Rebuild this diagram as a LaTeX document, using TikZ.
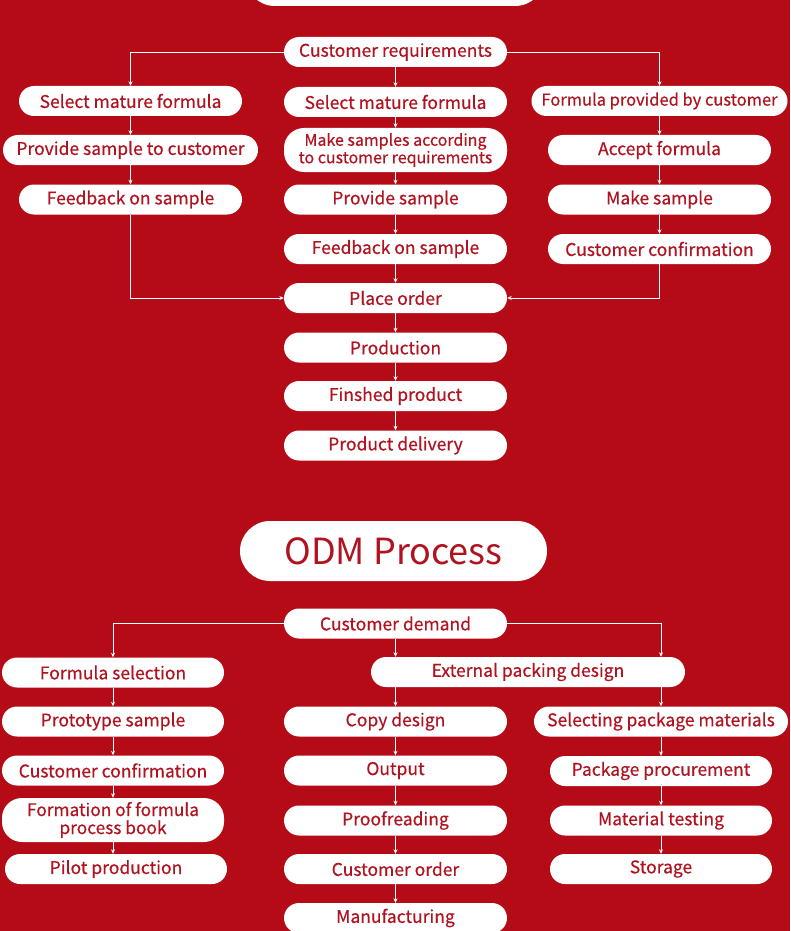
\documentclass[tikz,border=0pt]{standalone}
\usepackage{fontspec}
\setmainfont{Noto Sans CJK SC}
\newfontfamily\boxfont{Noto Sans CJK SC}[FakeBold=0.4]
\usetikzlibrary{arrows.meta}
\definecolor{bgred}{RGB}{181,11,22}
\definecolor{txtred}{RGB}{176,18,32}
\tikzset{
  box/.style={fill=white, rounded corners=15pt, minimum height=30pt, minimum width=223pt,
    inner sep=0pt, text=txtred, align=center, font=\boxfont\fontsize{17.5}{19}\selectfont},
  box2/.style={box, minimum height=44pt, rounded corners=20pt, font=\boxfont\fontsize{16}{17.5}\selectfont},
  titlebox/.style={fill=white, rounded corners=30pt, minimum height=60pt, minimum width=307pt,
    inner sep=0pt, text=txtred, font=\fontsize{36}{40}\selectfont},
  arr/.style={draw=white, line width=0.9pt, -{Stealth[length=4.5pt,width=4pt]}},
}
\begin{document}
\begin{tikzpicture}[x=1pt,y=-1pt]
\useasboundingbox (0,0) rectangle (790,931);
\clip (0,0) rectangle (790,931);
\fill[bgred] (0,0) rectangle (790,931);
% cut-off title box at the top
\fill[white, rounded corners=30pt] (245,-54) rectangle (545,6);

% ---------- top flow ----------
\node[box] (cr) at (395.5,52) {Customer requirements};
\node[box] (l1) at (130.5,101) {Select mature formula};
\node[box, minimum width=255pt] (l2) at (130.5,150) {Provide sample to customer};
\node[box] (l3) at (130.5,199.5) {Feedback on sample};
\node[box] (m1) at (395.5,102) {Select mature formula};
\node[box2] (m2) at (395.5,150) {Make samples according\\to customer requirements};
\node[box] (m3) at (395.5,199.5) {Provide sample};
\node[box] (m4) at (395.5,249) {Feedback on sample};
\node[box] (po) at (395.5,298) {Place order};
\node[box] (pr) at (395.5,347.5) {Production};
\node[box] (fp) at (395.5,396) {Finshed product};
\node[box] (pd) at (395.5,445.5) {Product delivery};
\node[box, minimum width=256pt, font=\boxfont\fontsize{16.5}{18}\selectfont] (r1) at (659.5,101) {Formula provided by customer};
\node[box] (r2) at (659.5,150) {Accept formula};
\node[box] (r3) at (659.5,199.5) {Make sample};
\node[box] (r4) at (659.5,249) {Customer confirmation};

\draw[arr] (cr.west) -| (l1.north);
\draw[arr] (cr.east) -| (r1.north);
\draw[arr] (cr) -- (m1);
\draw[arr] (l1) -- (l2);
\draw[arr] (l2) -- (l3);
\draw[arr] (m1) -- (m2);
\draw[arr] (m2) -- (m3);
\draw[arr] (m3) -- (m4);
\draw[arr] (m4) -- (po);
\draw[arr] (po) -- (pr);
\draw[arr] (pr) -- (fp);
\draw[arr] (fp) -- (pd);
\draw[arr] (r1) -- (r2);
\draw[arr] (r2) -- (r3);
\draw[arr] (r3) -- (r4);
\draw[arr] (l3.south) |- (po.west);
\draw[arr] (r4.south) |- (po.east);

% ---------- ODM flow ----------
\node[titlebox] (odm) at (393.5,551) {ODM Process};
\node[box] (cd) at (395.5,623.5) {Customer demand};
\node[box, minimum width=222pt] (a1) at (113,672.5) {Formula selection};
\node[box, minimum width=222pt] (a2) at (113,721.5) {Prototype sample};
\node[box, minimum width=222pt] (a3) at (113,770.5) {Customer confirmation};
\node[box2, minimum width=222pt, font=\boxfont\fontsize{17.3}{18}\selectfont] (a4) at (113,820) {Formation of formula\\process book};
\node[box, minimum width=222pt] (a5) at (116,869) {Pilot production};
\node[box, minimum width=314pt] (epd) at (528,672) {External packing design};
\node[box] (b1) at (395.5,721.5) {Copy design};
\node[box] (b2) at (395.5,770.5) {Output};
\node[box] (b3) at (395.5,820.5) {Proofreading};
\node[box] (b4) at (395.5,869) {Customer order};
\node[box] (b5) at (395.5,918) {Manufacturing};
\node[box, minimum width=254pt] (c1) at (661,721.5) {Selecting package materials};
\node[box, minimum width=222pt] (c2) at (661,771) {Package procurement};
\node[box, minimum width=222pt] (c3) at (661,820.5) {Material testing};
\node[box, minimum width=222pt] (c4) at (661,869) {Storage};

\draw[arr] (cd.west) -| (a1.north);
\draw[arr] (a1) -- (a2);
\draw[arr] (a2) -- (a3);
\draw[arr] (a3) -- (a4);
\draw[arr] (a4.south) -- (a4.south |- a5.north);
\draw[arr] (cd.south) -- (cd.south |- epd.north);
\draw[arr] (cd.east) -| (c1.north |- epd.north);
\draw[arr] (b1.north |- epd.south) -- (b1.north);
\draw[arr] (c1.north |- epd.south) -- (c1.north);
\draw[arr] (b1) -- (b2);
\draw[arr] (b2) -- (b3);
\draw[arr] (b3) -- (b4);
\draw[arr] (b4) -- (b5);
\draw[arr] (c1) -- (c2);
\draw[arr] (c2) -- (c3);
\draw[arr] (c3) -- (c4);
\end{tikzpicture}
\end{document}
